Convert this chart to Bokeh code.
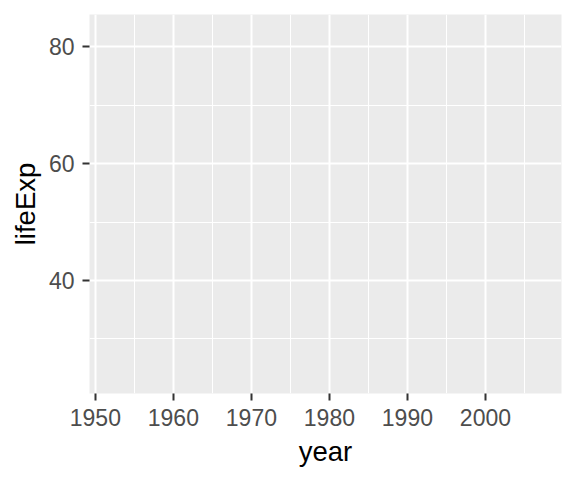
from bokeh.plotting import figure
from bokeh.models import Range1d, FixedTicker
from bokeh.embed import file_html
from bokeh.resources import INLINE

# Data (axis domain of gapminder: year 1952-2007, lifeExp 23.6-82.6)
year_span = [1952, 2007]
life_span = [23.6, 82.6]
x_ticks = [1950, 1960, 1970, 1980, 1990, 2000]
x_minor = [1955, 1965, 1975, 1985, 1995, 2005]
y_ticks = [40, 60, 80]
y_minor = [30, 50, 70]

def expand(lo_hi, frac=0.05):
    lo, hi = lo_hi
    d = (hi - lo) * frac
    return lo - d, hi + d

xr = Range1d(*expand(year_span))
yr = Range1d(*expand(life_span))

p = figure(x_range=xr, y_range=yr, output_backend="svg", toolbar_location=None,
           frame_width=472, frame_height=379,
           min_border_left=89, min_border_right=15, min_border_top=14, min_border_bottom=87)

p.background_fill_color = "#EBEBEB"
p.border_fill_color = "white"
p.outline_line_color = None

p.xaxis.ticker = FixedTicker(ticks=x_ticks, minor_ticks=x_minor)
p.yaxis.ticker = FixedTicker(ticks=y_ticks, minor_ticks=y_minor)

for ax in (p.xaxis[0], p.yaxis[0]):
    ax.axis_line_color = None
    ax.minor_tick_line_color = None
    ax.major_tick_line_color = "#333333"
    ax.major_tick_line_width = 2
    ax.major_tick_in = 0
    ax.major_tick_out = 7
    ax.major_label_text_font = "Liberation Sans"
    ax.major_label_text_font_size = "23px"
    ax.major_label_text_color = "#4D4D4D"
    ax.axis_label_text_font = "Liberation Sans"
    ax.axis_label_text_font_size = "27.5px"
    ax.axis_label_text_font_style = "normal"
    ax.axis_label_text_color = "black"

p.xaxis.axis_label = "year"
p.yaxis.axis_label = "lifeExp"
p.xaxis.major_label_standoff = 8
p.yaxis.major_label_standoff = 8
p.xaxis.axis_label_standoff = 7
p.yaxis.axis_label_standoff = 5

for g in (p.xgrid[0], p.ygrid[0]):
    g.grid_line_color = "white"
    g.grid_line_width = 2
    g.minor_grid_line_color = "white"
    g.minor_grid_line_width = 1

open("out.html", "w").write(file_html(p, INLINE))
